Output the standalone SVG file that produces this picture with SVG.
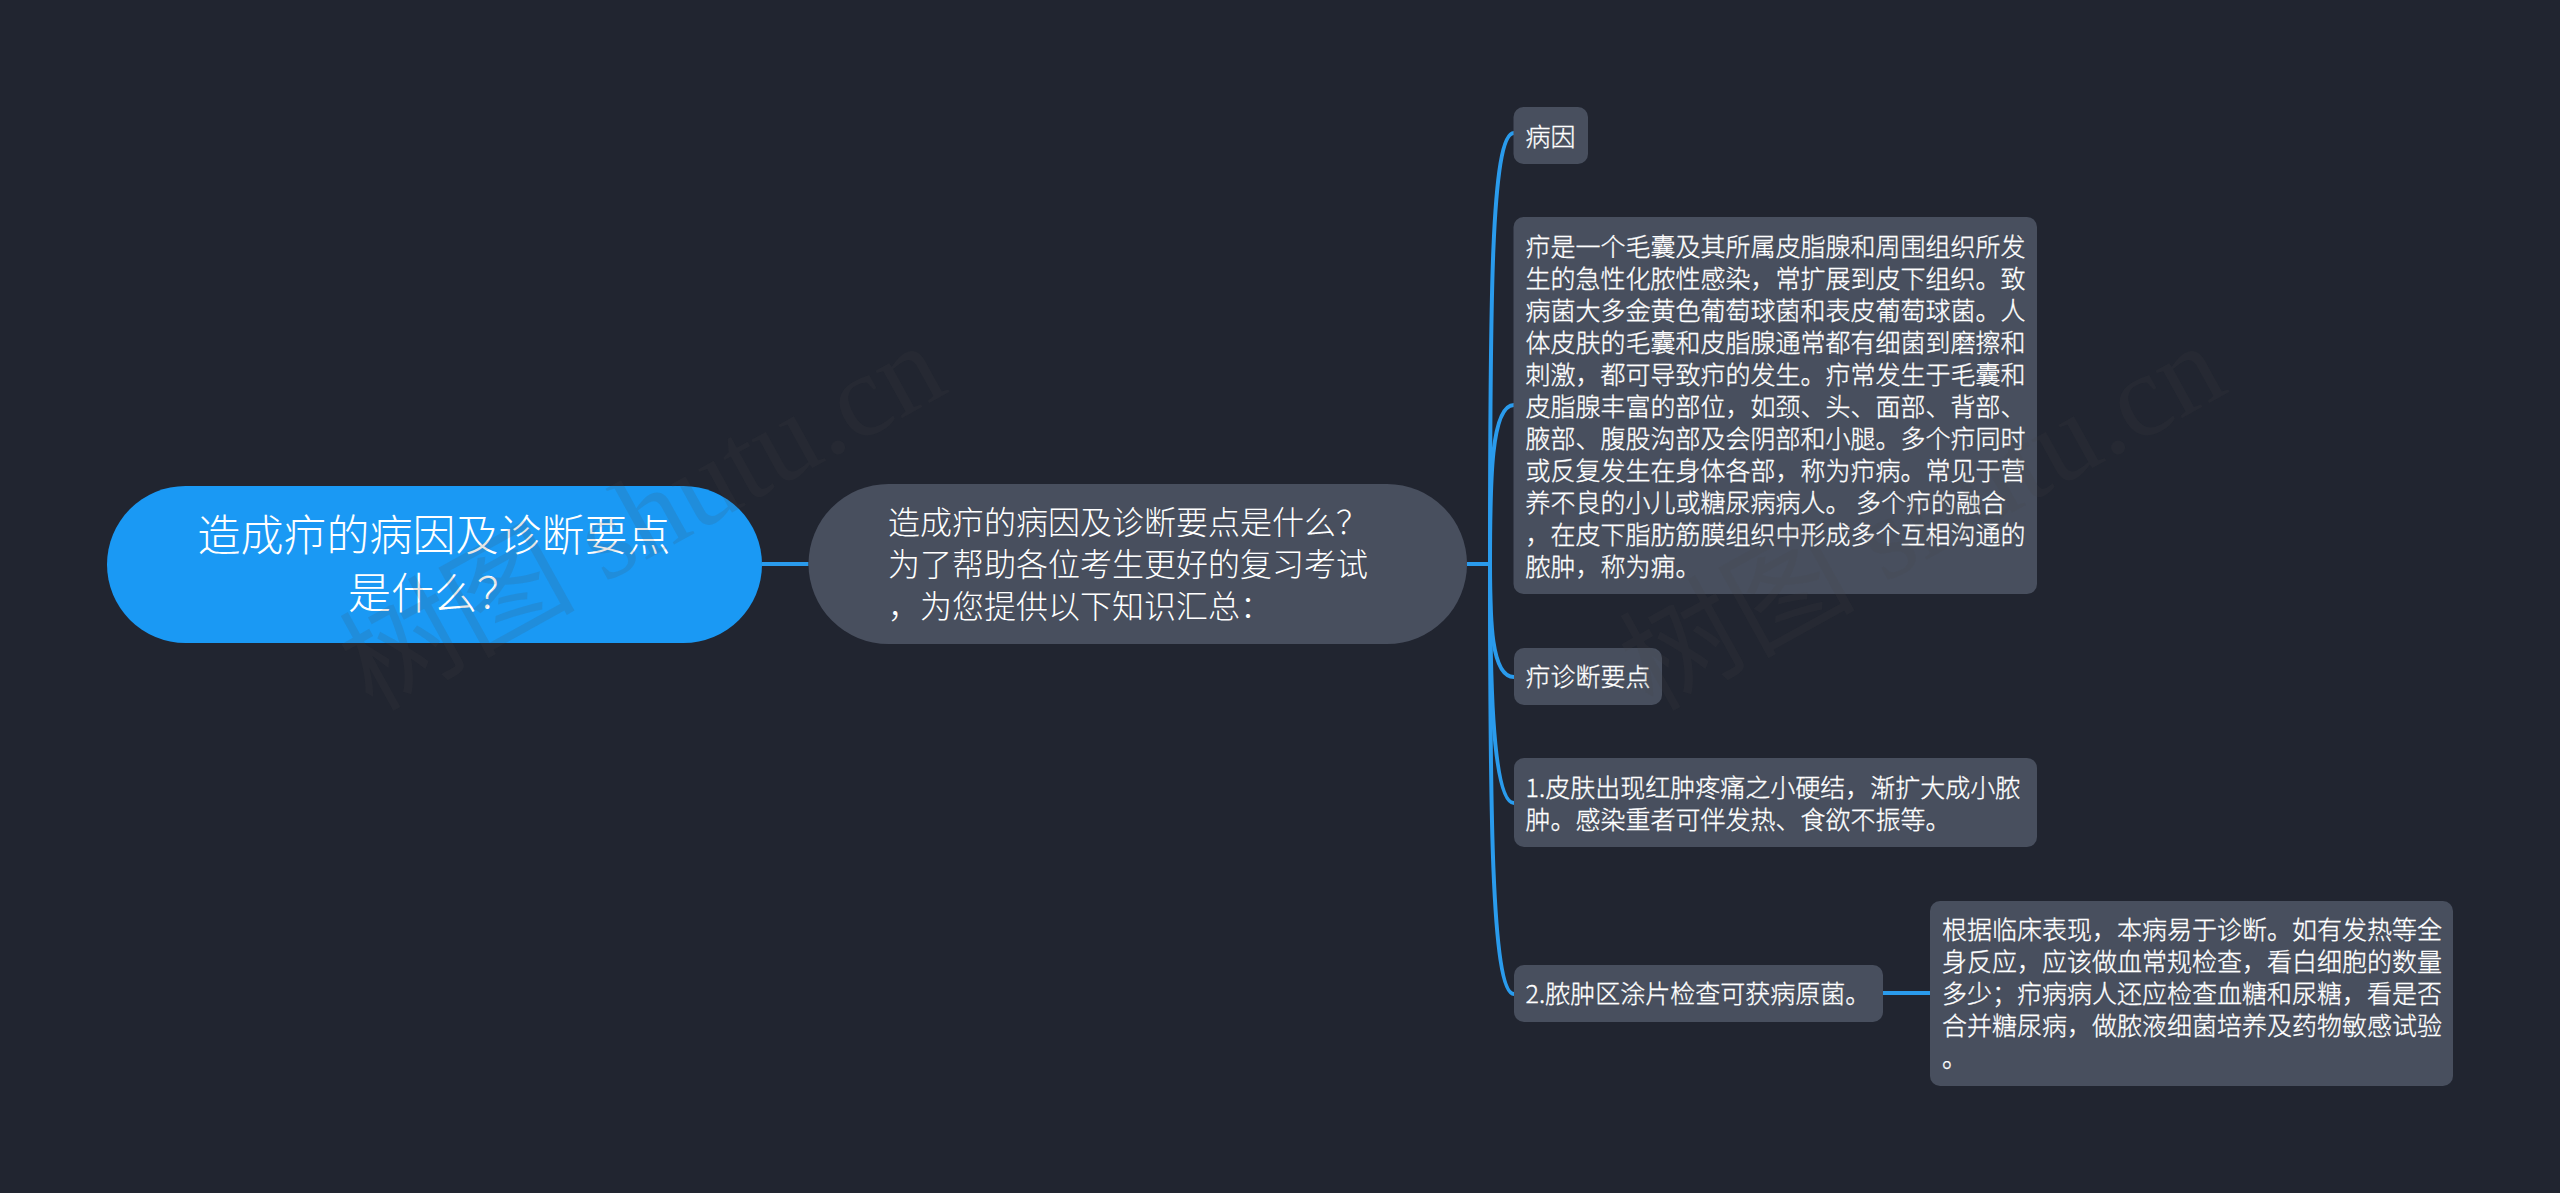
<svg xmlns="http://www.w3.org/2000/svg" width="2560" height="1193" viewBox="0 0 2560 1193">
<style>
text{font-family:"Noto Sans CJK SC","Noto Sans",sans-serif;fill:#fff;font-weight:300}
.t{font-size:25px;stroke:#fff;stroke-width:.3px}
.g{fill:#484f5e}
.c{fill:none;stroke:#2a9bec;stroke-width:4}
.w{font-family:"Liberation Serif","Noto Sans CJK SC",serif;font-size:118px;font-weight:400;fill:#464646;fill-opacity:.14}
</style>
<rect width="2560" height="1193" fill="#212530"/>
<g id="connectors">
<path class="c" d="M762 564H808.500"/>
<path class="c" d="M1467 564H1490"/>
<path class="c" d="M1490 564C1490 300 1491 133 1514 133"/>
<path class="c" d="M1490 564C1490 480 1491 405 1514 405"/>
<path class="c" d="M1490 564C1490 620 1491 677 1514 677"/>
<path class="c" d="M1490 564C1490 660 1491 803 1514 803"/>
<path class="c" d="M1490 564C1490 800 1491 994 1514 994"/>
<path class="c" d="M1882 993H1930"/>
</g>
<g id="root">
<rect x="107" y="486" width="655" height="157" rx="78.500" fill="#1a99f4"/>
<text x="434" y="551" font-size="43" text-anchor="middle">造成疖的病因及诊断要点</text>
<text x="434" y="609" font-size="43" text-anchor="middle">是什么？</text>
</g>
<g id="topic">
<rect class="g" x="808.500" y="484" width="658.500" height="160" rx="80"/>
<text x="888" y="534" font-size="32">造成疖的病因及诊断要点是什么？</text>
<text x="888" y="576" font-size="32">为了帮助各位考生更好的复习考试</text>
<text x="888" y="618" font-size="32">，为您提供以下知识汇总：</text>
</g>
<g id="n1">
<rect class="g" x="1513.500" y="107" width="74.500" height="57" rx="10"/>
<text class="t" x="1525.500" y="146">病因</text>
</g>
<g id="n2">
<rect class="g" x="1513.500" y="217" width="523.500" height="377" rx="10"/>
<text class="t" x="1525.500" y="256">疖是一个毛囊及其所属皮脂腺和周围组织所发</text>
<text class="t" x="1525.500" y="288">生的急性化脓性感染，常扩展到皮下组织。致</text>
<text class="t" x="1525.500" y="320">病菌大多金黄色葡萄球菌和表皮葡萄球菌。人</text>
<text class="t" x="1525.500" y="352">体皮肤的毛囊和皮脂腺通常都有细菌到磨擦和</text>
<text class="t" x="1525.500" y="384">刺激，都可导致疖的发生。疖常发生于毛囊和</text>
<text class="t" x="1525.500" y="416">皮脂腺丰富的部位，如颈、头、面部、背部、</text>
<text class="t" x="1525.500" y="448">腋部、腹股沟部及会阴部和小腿。多个疖同时</text>
<text class="t" x="1525.500" y="480">或反复发生在身体各部，称为疖病。常见于营</text>
<text class="t" x="1525.500" y="512" xml:space="preserve">养不良的小儿或糖尿病病人。 多个疖的融合</text>
<text class="t" x="1525.500" y="544">，在皮下脂肪筋膜组织中形成多个互相沟通的</text>
<text class="t" x="1525.500" y="576">脓肿，称为痈。</text>
</g>
<g id="n3">
<rect class="g" x="1514" y="648" width="148" height="57" rx="10"/>
<text class="t" x="1525.500" y="686">疖诊断要点</text>
</g>
<g id="n4">
<rect class="g" x="1514" y="758" width="523" height="89" rx="10"/>
<text class="t" x="1525.500" y="797">1.皮肤出现红肿疼痛之小硬结，渐扩大成小脓</text>
<text class="t" x="1525.500" y="829">肿。感染重者可伴发热、食欲不振等。</text>
</g>
<g id="n5">
<rect class="g" x="1514" y="965" width="369" height="57" rx="10"/>
<text class="t" x="1525.500" y="1003">2.脓肿区涂片检查可获病原菌。</text>
</g>
<g id="n6">
<rect class="g" x="1930" y="901" width="523" height="185" rx="10"/>
<text class="t" x="1942" y="939">根据临床表现，本病易于诊断。如有发热等全</text>
<text class="t" x="1942" y="971">身反应，应该做血常规检查，看白细胞的数量</text>
<text class="t" x="1942" y="1003">多少；疖病病人还应检查血糖和尿糖，看是否</text>
<text class="t" x="1942" y="1035">合并糖尿病，做脓液细菌培养及药物敏感试验</text>
<text class="t" x="1942" y="1067">。</text>
</g>
<g id="watermark">
<text class="w" transform="translate(372 712) rotate(-29)">树图 shutu.cn</text>
<text class="w" transform="translate(1652 712) rotate(-29)">树图 shutu.cn</text>
</g>
</svg>
